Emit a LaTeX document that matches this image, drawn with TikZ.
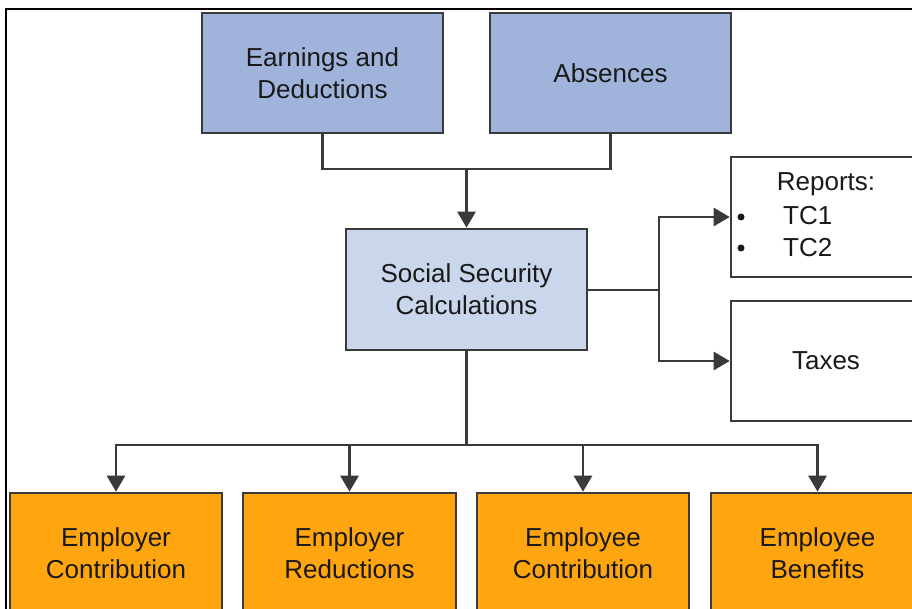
\documentclass[tikz,border=0pt]{standalone}
\usepackage{fontspec}
\setmainfont{Liberation Sans}
\usetikzlibrary{arrows.meta}
\definecolor{bluebox}{RGB}{160,180,219}
\definecolor{lightbluebox}{RGB}{201,214,236}
\definecolor{orangebox}{RGB}{255,165,15}
\definecolor{edgegray}{RGB}{58,58,58}
\definecolor{txt}{RGB}{25,25,25}
\begin{document}
\begin{tikzpicture}[x=1pt,y=-1pt,
  box/.style={draw=edgegray,line width=2.6pt,minimum height=120pt,inner sep=0pt,align=center,
    text=txt,font=\fontsize{26}{32}\selectfont},
  conn/.style={draw=edgegray,line width=2.8pt},
  arr/.style={conn,-{Triangle[length=16pt,width=18pt]}},
  lbl/.style={text=txt,font=\fontsize{26}{32}\selectfont,inner sep=0pt},
  dot/.style={circle,fill=txt,inner sep=0pt,minimum size=7pt}]
\useasboundingbox (0,0) rectangle (912,609);
\draw[line width=1.4pt] (6,609) -- (6,9) -- (912,9);
% top boxes
\node[box,fill=bluebox,minimum width=241pt] (ed) at (322.5,73) {Earnings and\\Deductions};
\node[box,fill=bluebox,minimum width=241pt] (ab) at (610.5,73) {Absences};
\node[box,fill=lightbluebox,minimum width=241pt,minimum height=121pt] (ssc) at (466.5,289.5) {Social Security\\Calculations};
% right boxes
\node[box,fill=white,minimum width=190pt] (rep) at (826,217) {};
\node[box,fill=white,minimum width=190pt] (tax) at (826,361) {Taxes};
\node[lbl] (rept) at (826,184) {Reports:};
\node[dot] (b1) at (741,217) {};
\node[dot] (b2) at (741,248) {};
\node[lbl,anchor=west] (tc1) at (783,216) {TC1};
\node[lbl,anchor=west] (tc2) at (783,248) {TC2};
% bottom boxes
\node[box,fill=orangebox,minimum width=212pt] (ec) at (116,553) {Employer\\Contribution};
\node[box,fill=orangebox,minimum width=213pt] (er) at (349.5,553) {Employer\\Reductions};
\node[box,fill=orangebox,minimum width=212pt] (eec) at (583,553) {Employee\\Contribution};
\node[box,fill=orangebox,minimum width=213pt] (eb) at (817.5,553) {Employee\\Benefits};
% junctions
\coordinate (j1) at (466.5,169);
\coordinate (j2) at (659,290);
\coordinate (j3) at (466.5,445);
% connectors
\draw[conn] (ed.south) |- (j1) -| (ab.south);
\draw[arr] (j1) -- (ssc.north);
\draw[conn] (ssc.east |- j2) -- (j2);
\draw[arr] (j2) |- (rep.west);
\draw[arr] (j2) |- (tax.west);
\draw[conn] (ssc.south) -- (j3);
\draw[arr] (j3) -| (ec.north);
\draw[arr] (j3) -| (er.north);
\draw[arr] (j3) -| (eec.north);
\draw[arr] (j3) -| (eb.north);
\end{tikzpicture}
\end{document}
